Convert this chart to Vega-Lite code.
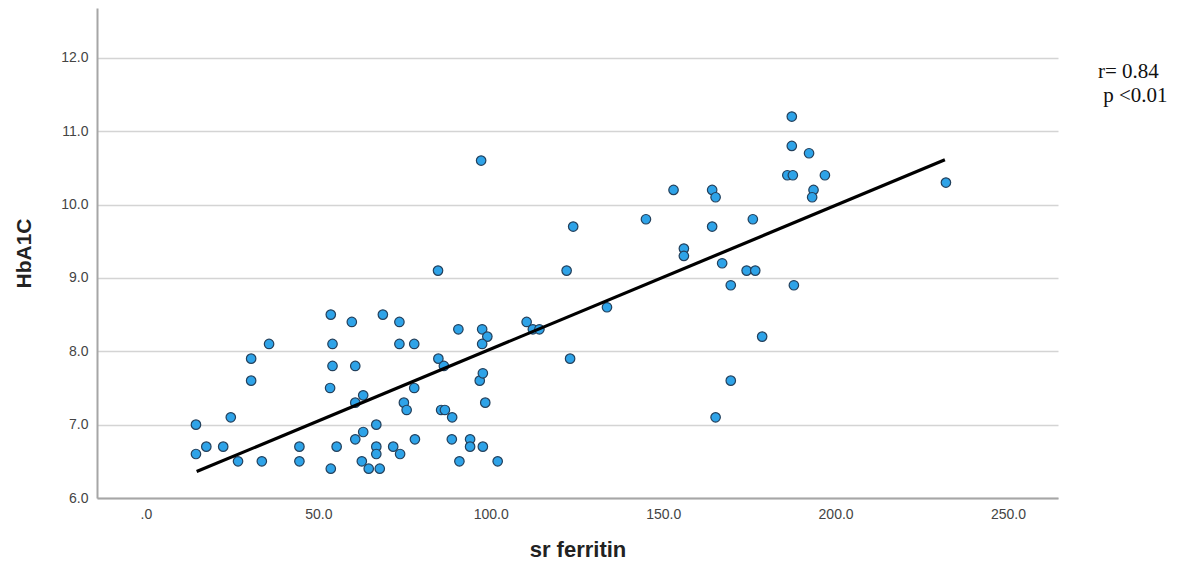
{
  "$schema": "https://vega.github.io/schema/vega-lite/v6.json",
  "width": 961,
  "height": 490,
  "autosize": {"type": "none"},
  "padding": {"left": 97, "top": 8, "right": 123, "bottom": 66},
  "background": "white",
  "config": {
    "view": {"stroke": null},
    "font": "Liberation Sans"
  },
  "datasets": {
    "pts": [
      {"ferritin": 14.5, "hba1c": 7.0}, {"ferritin": 14.5, "hba1c": 6.6}, {"ferritin": 17.5, "hba1c": 6.7},
      {"ferritin": 22.4, "hba1c": 6.7}, {"ferritin": 24.6, "hba1c": 7.1}, {"ferritin": 26.7, "hba1c": 6.5},
      {"ferritin": 30.5, "hba1c": 7.9}, {"ferritin": 30.5, "hba1c": 7.6}, {"ferritin": 35.7, "hba1c": 8.1},
      {"ferritin": 33.6, "hba1c": 6.5}, {"ferritin": 44.5, "hba1c": 6.5}, {"ferritin": 44.5, "hba1c": 6.7},
      {"ferritin": 53.6, "hba1c": 8.5}, {"ferritin": 54.1, "hba1c": 8.1}, {"ferritin": 54.1, "hba1c": 7.8},
      {"ferritin": 53.4, "hba1c": 7.5}, {"ferritin": 53.6, "hba1c": 6.4}, {"ferritin": 55.3, "hba1c": 6.7},
      {"ferritin": 59.7, "hba1c": 8.4}, {"ferritin": 60.7, "hba1c": 7.8}, {"ferritin": 60.7, "hba1c": 7.3},
      {"ferritin": 60.7, "hba1c": 6.8}, {"ferritin": 63.0, "hba1c": 7.4}, {"ferritin": 63.0, "hba1c": 6.9},
      {"ferritin": 62.6, "hba1c": 6.5}, {"ferritin": 64.6, "hba1c": 6.4}, {"ferritin": 66.8, "hba1c": 7.0},
      {"ferritin": 66.8, "hba1c": 6.7}, {"ferritin": 66.8, "hba1c": 6.6}, {"ferritin": 67.8, "hba1c": 6.4},
      {"ferritin": 68.7, "hba1c": 8.5}, {"ferritin": 71.7, "hba1c": 6.7}, {"ferritin": 73.5, "hba1c": 8.4},
      {"ferritin": 73.5, "hba1c": 8.1}, {"ferritin": 73.7, "hba1c": 6.6}, {"ferritin": 74.8, "hba1c": 7.3},
      {"ferritin": 75.6, "hba1c": 7.2}, {"ferritin": 77.8, "hba1c": 8.1}, {"ferritin": 77.8, "hba1c": 7.5},
      {"ferritin": 78.0, "hba1c": 6.8}, {"ferritin": 84.7, "hba1c": 9.1}, {"ferritin": 84.8, "hba1c": 7.9},
      {"ferritin": 85.6, "hba1c": 7.2}, {"ferritin": 86.7, "hba1c": 7.2}, {"ferritin": 86.4, "hba1c": 7.8},
      {"ferritin": 88.8, "hba1c": 7.1}, {"ferritin": 88.7, "hba1c": 6.8}, {"ferritin": 90.6, "hba1c": 8.3},
      {"ferritin": 90.9, "hba1c": 6.5}, {"ferritin": 94.0, "hba1c": 6.8}, {"ferritin": 94.0, "hba1c": 6.7},
      {"ferritin": 97.2, "hba1c": 10.6}, {"ferritin": 97.5, "hba1c": 8.3}, {"ferritin": 99.0, "hba1c": 8.2},
      {"ferritin": 97.5, "hba1c": 8.1}, {"ferritin": 96.8, "hba1c": 7.6}, {"ferritin": 97.7, "hba1c": 7.7},
      {"ferritin": 98.4, "hba1c": 7.3}, {"ferritin": 97.7, "hba1c": 6.7}, {"ferritin": 102.0, "hba1c": 6.5},
      {"ferritin": 110.4, "hba1c": 8.4}, {"ferritin": 112.2, "hba1c": 8.3}, {"ferritin": 114.1, "hba1c": 8.3},
      {"ferritin": 122.0, "hba1c": 9.1}, {"ferritin": 123.9, "hba1c": 9.7}, {"ferritin": 123.0, "hba1c": 7.9},
      {"ferritin": 133.7, "hba1c": 8.6}, {"ferritin": 145.0, "hba1c": 9.8}, {"ferritin": 153.0, "hba1c": 10.2},
      {"ferritin": 156.0, "hba1c": 9.4}, {"ferritin": 156.0, "hba1c": 9.3}, {"ferritin": 164.2, "hba1c": 10.2},
      {"ferritin": 165.2, "hba1c": 10.1}, {"ferritin": 164.2, "hba1c": 9.7}, {"ferritin": 165.2, "hba1c": 7.1},
      {"ferritin": 167.1, "hba1c": 9.2}, {"ferritin": 169.6, "hba1c": 8.9}, {"ferritin": 169.6, "hba1c": 7.6},
      {"ferritin": 174.2, "hba1c": 9.1}, {"ferritin": 176.7, "hba1c": 9.1}, {"ferritin": 176.0, "hba1c": 9.8},
      {"ferritin": 178.7, "hba1c": 8.2}, {"ferritin": 186.0, "hba1c": 10.4}, {"ferritin": 187.3, "hba1c": 11.2},
      {"ferritin": 187.3, "hba1c": 10.8}, {"ferritin": 187.6, "hba1c": 10.4}, {"ferritin": 187.9, "hba1c": 8.9},
      {"ferritin": 192.3, "hba1c": 10.7}, {"ferritin": 193.6, "hba1c": 10.2}, {"ferritin": 193.2, "hba1c": 10.1},
      {"ferritin": 196.9, "hba1c": 10.4}, {"ferritin": 232.0, "hba1c": 10.3}
    ],
    "fit": [
      {"ferritin": 14.7, "hba1c": 6.36},
      {"ferritin": 231.7, "hba1c": 10.61}
    ],
    "notes": [
      {"ferritin": 276.1, "hba1c": 11.81, "label": "r= 0.84"},
      {"ferritin": 277.6, "hba1c": 11.48, "label": "p <0.01"}
    ]
  },
  "encoding": {
    "x": {
      "field": "ferritin",
      "type": "quantitative",
      "scale": {"domain": [-14.2, 264.5], "nice": false, "zero": false},
      "axis": {
        "title": "sr ferritin",
        "values": [0, 50, 100, 150, 200, 250],
        "labelExpr": "datum.value == 0 ? '.0' : format(datum.value, '.1f')",
        "grid": false,
        "ticks": false,
        "domainColor": "#a6a6a6",
        "domainWidth": 2,
        "labelFont": "Liberation Sans",
        "labelFontSize": 14,
        "labelColor": "#444444",
        "labelPadding": 9,
        "titleFont": "Liberation Sans",
        "titleFontSize": 22,
        "titleFontWeight": "bold",
        "titleColor": "#222222",
        "titlePadding": 18
      }
    },
    "y": {
      "field": "hba1c",
      "type": "quantitative",
      "scale": {"domain": [6, 12.68], "nice": false, "zero": false},
      "axis": {
        "title": "HbA1C",
        "values": [6, 7, 8, 9, 10, 11, 12],
        "format": ".1f",
        "grid": true,
        "gridColor": "#d4d4d4",
        "gridWidth": 1.5,
        "ticks": false,
        "domainColor": "#a6a6a6",
        "domainWidth": 2,
        "labelFont": "Liberation Sans",
        "labelFontSize": 14,
        "labelColor": "#444444",
        "labelPadding": 9,
        "titleFont": "Liberation Sans",
        "titleFontSize": 21,
        "titleFontWeight": "bold",
        "titleColor": "#222222",
        "titlePadding": 26
      }
    }
  },
  "layer": [
    {
      "data": {"name": "pts"},
      "mark": {"type": "point", "shape": "circle", "filled": true, "size": 90, "fill": "#2ea3e8", "stroke": "#23405c", "strokeWidth": 1.2, "opacity": 1, "fillOpacity": 1}
    },
    {
      "data": {"name": "fit"},
      "mark": {"type": "line", "color": "#000000", "strokeWidth": 3.2}
    },
    {
      "data": {"name": "notes"},
      "mark": {"type": "text", "align": "left", "baseline": "middle", "font": "Liberation Serif", "fontSize": 21, "color": "#111111", "clip": false},
      "encoding": {"text": {"field": "label", "type": "nominal"}}
    }
  ]
}
